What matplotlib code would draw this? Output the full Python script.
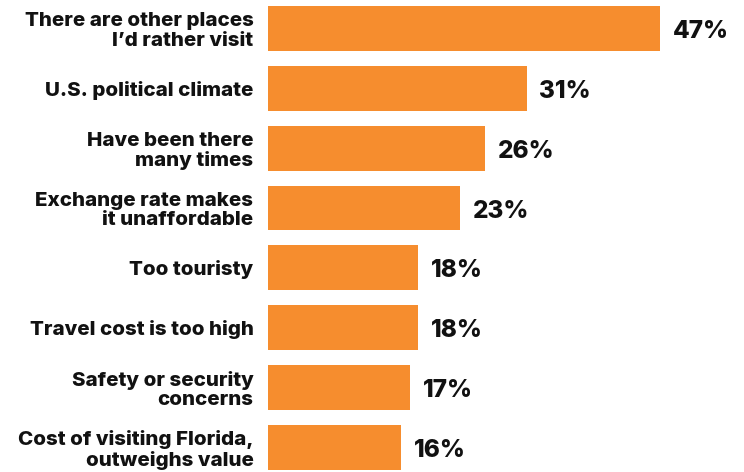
import matplotlib.pyplot as plt

reasons = [
    "There are other places\nI\u2019d rather visit",
    "U.S. political climate",
    "Have been there\nmany times",
    "Exchange rate makes\nit unaffordable",
    "Too touristy",
    "Travel cost is too high",
    "Safety or security\nconcerns",
    "Cost of visiting Florida,\noutweighs value",
]
shares = [47, 31, 26, 23, 18, 18, 17, 16]

orange = "#F68D2E"
ink = "#111111"

plt.rcParams["font.family"] = ["Inter", "DejaVu Sans"]

fig = plt.figure(figsize=(7.44, 4.72), dpi=100)
# axes start where the bars start; labels sit in the left margin
ax = fig.add_axes([268 / 744, 0, 476 / 744, 1])

ypos = list(range(len(reasons)))
ax.barh(ypos, shares, height=0.75, color=orange)

for y, v in zip(ypos, shares):
    ax.text(v + 1.55, y + 0.05, f"{v}%", va="center", ha="left",
            fontsize=17.5, fontweight="heavy", color=ink)

ax.set_xlim(0, 476 / 8.34)
ax.set_ylim(7.41, -0.476)
ax.set_yticks(ypos)
ax.set_yticklabels(reasons, fontsize=14.8, fontweight="heavy", color=ink,
                   linespacing=1.08, ha="right")
ax.tick_params(axis="y", length=0, pad=10.5)
ax.set_xticks([])
for s in ax.spines.values():
    s.set_visible(False)

fig.savefig("out.png", dpi=100)
